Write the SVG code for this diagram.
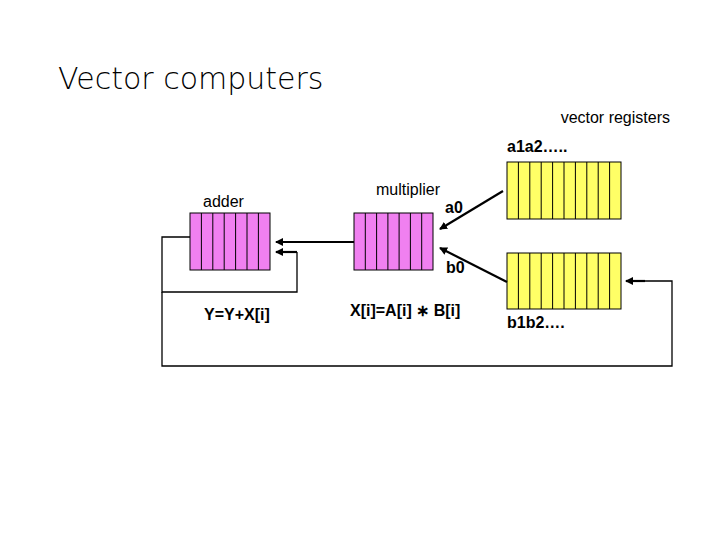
<svg xmlns="http://www.w3.org/2000/svg" width="720" height="540" viewBox="0 0 720 540">
<style>
text{font-family:"Liberation Sans",Arial,sans-serif;fill:#000}
.b{font-weight:bold;font-size:16px}
.n{font-size:16px}
.pk{fill:#f080f0;stroke:#000;stroke-width:1}
.yl{fill:#ffff66;stroke:#000;stroke-width:1}
.c{stroke:#000;stroke-width:1}
.w{fill:none;stroke:#000;stroke-width:1.3}
.ar{fill:none;stroke:#000;stroke-width:2.2}
</style>
<defs><marker id="ah" markerWidth="8" markerHeight="8" refX="7" refY="4" orient="auto" markerUnits="userSpaceOnUse"><path d="M0,0 L8,4 L0,8 z" fill="#000"/></marker></defs>
<rect width="720" height="540" fill="#fff"/>
<text x="58" y="89" font-size="30" style="font-family:'DejaVu Sans',sans-serif;font-weight:200" fill="#000">Vector computers</text>
<text x="670" y="123" class="n" text-anchor="end">vector registers</text>
<g id="adder"><rect class="pk" x="190" y="213" width="80" height="57"/>
<path class="c" d="M201.4 213v57M212.8 213v57M224.2 213v57M235.6 213v57M247 213v57M258.4 213v57"/>
<text x="203" y="207" class="n">adder</text><text x="204" y="320" class="b">Y=Y+X[i]</text></g>
<g id="multiplier"><rect class="pk" x="354" y="213" width="79" height="57"/>
<path class="c" d="M365.3 213v57M376.6 213v57M387.9 213v57M399.1 213v57M410.4 213v57M421.7 213v57"/>
<text x="376" y="195" class="n">multiplier</text><text x="350" y="316" class="b">X[i]=A[i] ∗ B[i]</text></g>
<g id="rega"><rect class="yl" x="507" y="162" width="114" height="57"/>
<path class="c" d="M518.4 162v57M529.8 162v57M541.2 162v57M552.6 162v57M564 162v57M575.4 162v57M586.8 162v57M598.2 162v57M609.6 162v57"/>
<text x="507" y="152" class="b">a1a2…..</text></g>
<g id="regb"><rect class="yl" x="507" y="253" width="114" height="56"/>
<path class="c" d="M518.4 253v56M529.8 253v56M541.2 253v56M552.6 253v56M564 253v56M575.4 253v56M586.8 253v56M598.2 253v56M609.6 253v56"/>
<text x="507" y="328" class="b">b1b2….</text></g>
<g id="connectors">
<path class="ar" d="M354 242H276" marker-end="url(#ah)"/>
<path class="ar" d="M297 252H276" marker-end="url(#ah)"/>
<path class="w" d="M297 252V292H162V237H190"/>
<path class="w" d="M162 292V366H672V281H640"/>
<path class="ar" d="M645 281H626" marker-end="url(#ah)"/>
<path class="ar" d="M503 191L440 229" marker-end="url(#ah)"/>
<path class="ar" d="M507 282L440 248" marker-end="url(#ah)"/>
<text x="445" y="213" class="b">a0</text><text x="446" y="273" class="b">b0</text>
</g>
</svg>
